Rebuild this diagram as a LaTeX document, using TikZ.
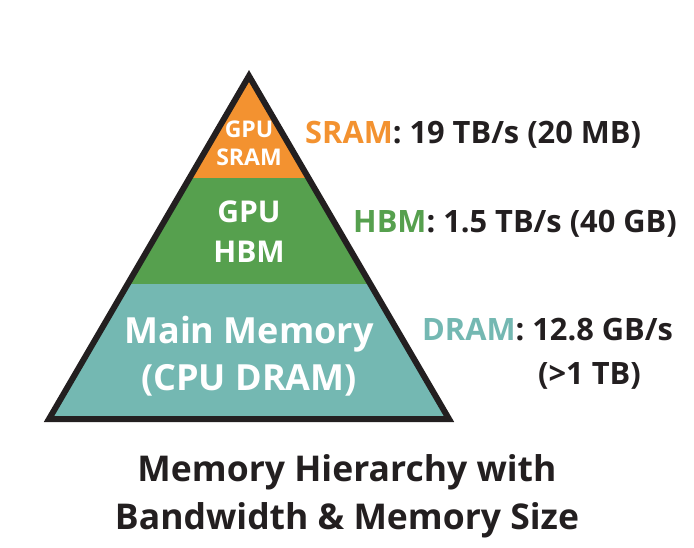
\documentclass[tikz,border=0pt]{standalone}
\usepackage{fontspec}
\setmainfont{Open Sans}
\usetikzlibrary{positioning}
\definecolor{sramorange}{RGB}{243,146,48}
\definecolor{hbmgreen}{RGB}{86,160,78}
\definecolor{dramteal}{RGB}{116,184,178}
\definecolor{inkdark}{RGB}{35,31,32}
\tikzset{
  tier text/.style={
    text=white, align=center, anchor=base, inner sep=0pt,
    font=\bfseries
  },
  bw label/.style={
    text=inkdark, anchor=base west, inner sep=0pt,
    font=\bfseries\fontsize{30.8}{36}\selectfont
  },
  caption text/.style={
    text=inkdark, anchor=base, inner sep=0pt,
    font=\bfseries\fontsize{35.5}{44}\selectfont
  }
}

\begin{document}
\begin{tikzpicture}[x=1pt, y=-1pt]
    \useasboundingbox (0,0) rectangle (694,548);
    % pyramid corners
    \coordinate (apex) at (249,76);
    \coordinate (left base) at (49,419);
    \coordinate (right base) at (449,419);
    \begin{scope}
      \clip (apex) -- (left base) -- (right base) -- cycle;
      \fill[sramorange] (0,60) rectangle (694,178);
      \fill[hbmgreen] (0,178) rectangle (694,284);
      \fill[dramteal] (0,284) rectangle (694,425);
    \end{scope}
    \draw[inkdark, line width=6pt, line join=miter] (apex) -- (left base) -- (right base) -- cycle;

    % tiers
    \node[tier text, font=\bfseries\fontsize{23}{28}\selectfont] (sram gpu) at (249,138) {GPU};
    \node[tier text, font=\bfseries\fontsize{23}{28}\selectfont] (sram tier) at (249,166) {SRAM};
    \node[tier text, font=\bfseries\fontsize{30}{36}\selectfont] (hbm gpu) at (249,223) {GPU};
    \node[tier text, font=\bfseries\fontsize{30}{36}\selectfont] (hbm tier) at (249,263) {HBM};
    \node[tier text, font=\bfseries\fontsize{36}{46}\selectfont] (dram main) at (249,343) {Main Memory};
    \node[tier text, font=\bfseries\fontsize{36}{46}\selectfont] (dram tier) at (249,390) {(CPU DRAM)};

    % bandwidth labels
    \node[bw label] (sram bw) at (305,144) {\textcolor{sramorange}{SRAM}: 19 TB/s (20 MB)};
    \node[bw label] (hbm bw) at (353,233) {\textcolor{hbmgreen}{HBM}: 1.5 TB/s (40 GB)};
    \node[bw label] (dram bw) at (422,341) {\textcolor{dramteal}{DRAM}: 12.8 GB/s};
    \node[bw label] (dram size) at (538,384) {(>1 TB)};

    % caption
    \node[caption text] (caption top) at (347,481) {Memory Hierarchy with};
    \node[caption text] (caption bottom) at (347,529) {Bandwidth \& Memory Size};
\end{tikzpicture}
\end{document}
